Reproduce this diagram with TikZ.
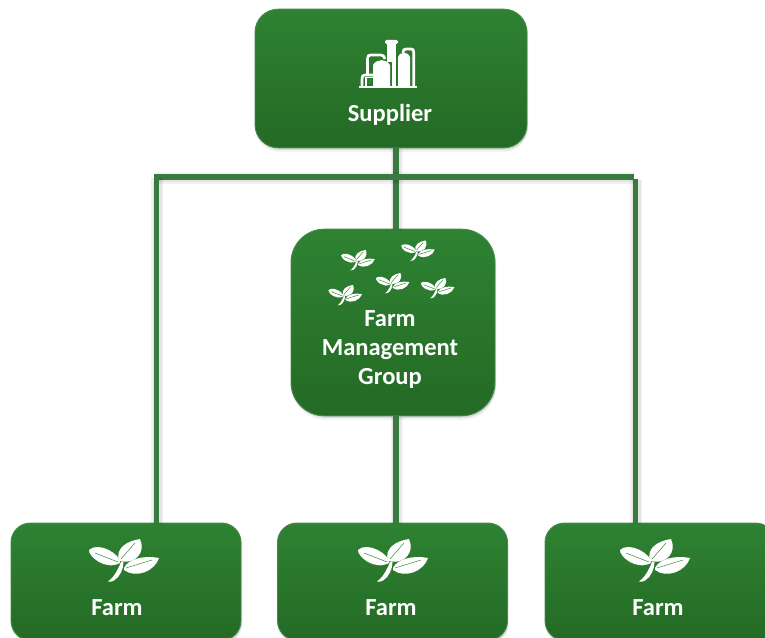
\documentclass[tikz,border=0pt]{standalone}
\usepackage{fontspec}
\setmainfont{Carlito}
\usetikzlibrary{shadows}
\definecolor{boxtop}{HTML}{2E8232}
\definecolor{boxbottom}{HTML}{246A25}
\definecolor{boxedge}{HTML}{46884E}
\definecolor{linegreen}{HTML}{387A40}
\tikzstyle{block} = [rectangle, draw=boxedge, line width=0.7pt, top color=boxtop, bottom color=boxbottom, drop shadow={shadow xshift=0.5pt, shadow yshift=-3pt, opacity=0.1}, drop shadow={shadow xshift=0.8pt, shadow yshift=-1.5pt, opacity=0.2}]
\tikzstyle{boxtext} = [text=white, align=center, font=\bfseries\fontsize{18.4}{21.75}\selectfont]
\tikzstyle{line} = [draw=linegreen, line width=4.2pt, preaction={draw=black, draw opacity=0.05, line width=9pt, transform canvas={xshift=0.6pt, yshift=-0.8pt}}, preaction={draw=black, draw opacity=0.06, line width=6.5pt, transform canvas={xshift=0.6pt, yshift=-0.8pt}}]
\tikzset{
  sprout/.pic={
    % left, upper and right leaf, then stem and veins
    \fill[white] (-2,1) .. controls (-1,-8) and (-24,-21) .. (-33,-12) .. controls (-33.8,-6) and (-17,9) .. (-2,1) -- cycle;
    \fill[white] (-3,-1) .. controls (-7,-14) and (5,-21) .. (18,-23) .. controls (24,-10) and (14,3) .. (-3,-1) -- cycle;
    \fill[white] (2,6) .. controls (6,-3) and (22,-7) .. (37,-4) .. controls (33,9) and (14,17) .. (2,8) -- cycle;
    \fill[white] (-14,19.5) .. controls (-9,16) and (-5,10) .. (-1,0) -- (1.5,0) .. controls (1.5,7) and (-2,15) .. (-8,18.5) .. controls (-10,19.7) and (-12,20.2) .. (-14,19.5) -- cycle;
    \draw[boxtop, line width=0.35pt] (-4,0) -- (-27,-9);
    \draw[boxtop, line width=0.35pt] (-1,-3) -- (13,-19);
    \draw[boxtop, line width=0.35pt] (4,6) -- (30,-2);
  },
  factory/.pic={
    % base line, stack, tanks and pipes
    \fill[white] (-30,0) rectangle (27.7,2.2);
    \fill[white] (2.7,0) rectangle (6.7,-30);
    \fill[white] (-2,-24) rectangle (7,-42);
    \fill[white, rounded corners=1pt] (-4,-42) rectangle (9,-46);
    \fill[white] (9,0) -- (9,-29) .. controls (10,-34.5) and (20,-34.5) .. (21,-29) -- (21,0) -- cycle;
    \draw[white, line width=2pt] (14,-33) .. controls (14,-36) and (15,-37) .. (17,-37) -- (22,-37) .. controls (24,-37) and (24.7,-36) .. (24.7,-34) -- (24.7,0);
    \fill[white] (-16,0) -- (-16,-21) .. controls (-12,-27.5) and (-3,-27.5) .. (1,-21) -- (1,0) -- cycle;
    \draw[white, line width=2pt] (-21.5,-12) -- (-21.5,-27) .. controls (-21.5,-30) and (-20.5,-31) .. (-18.5,-31) -- (-8,-31) .. controls (-6,-31) and (-5,-30) .. (-4,-27);
    \draw[white, line width=2pt] (-27,0) -- (-27,-7) .. controls (-27,-10) and (-26,-11) .. (-24,-11) -- (-16,-11);
    \fill[boxtop] (-22,-1.5) rectangle (-17,-7);
    \draw[white, line width=1.3pt] (-23,0) -- (-23,-8.5) -- (-16,-8.5);
  }
}

\begin{document}
\begin{tikzpicture}[x=0.75pt, y=-0.75pt]
    \useasboundingbox (0,0) rectangle (765,638);
    \begin{scope}
    \clip (0,0) rectangle (765,638);

    % Nodes
    \node [block, rounded corners=17.4pt, minimum width=204pt, minimum height=104pt] (supplier) at (391,78.5) {};
    \node [block, rounded corners=25pt, minimum width=153pt, minimum height=140pt] (group) at (393,322.5) {};
    \node [block, rounded corners=14.6pt, minimum width=172.5pt, minimum height=88pt] (farma) at (126,581.7) {};
    \node [block, rounded corners=14.6pt, minimum width=172.5pt, minimum height=88pt] (farmb) at (392.5,581.7) {};
    \node [block, rounded corners=14.6pt, minimum width=172.5pt, minimum height=88pt] (farmc) at (660,581.7) {};

    % labels
    \node [boxtext] (suppliertext) at (390,114.5) {Supplier};
    \node [boxtext] (grouptext) at (390,349.5) {Farm\\Management\\Group};
    \node [boxtext] (farmatext) at (117,608) {Farm};
    \node [boxtext] (farmbtext) at (391,608) {Farm};
    \node [boxtext] (farmctext) at (658,608) {Farm};

    % icons
    \pic at (389,86) {factory};
    \pic at (122,562) {sprout};
    \pic at (391,562) {sprout};
    \pic at (653,562) {sprout};
    \pic[scale=0.48] at (357,261) {sprout};
    \pic[scale=0.48] at (417,251.5) {sprout};
    \pic[scale=0.48] at (344.3,296) {sprout};
    \pic[scale=0.48] at (391.7,284) {sprout};
    \pic[scale=0.48] at (436.7,289) {sprout};

    % coordinates for the lines
    \coordinate (busleft) at (154,177);
    \coordinate (busright) at (633.5,177);
    \coordinate (trunk) at (396,177);
    \coordinate (dropleft) at (156.5,177);
    \coordinate (dropright) at (635.5,179);

    % lines
    \path[line] (supplier.south -| trunk) -- (group.north -| trunk);
    \path[line] (group.south -| trunk) -- (farmb.north -| trunk);
    \path[line] (busleft) -- (busright);
    \path[line] (dropleft) -- (farma.north -| dropleft);
    \path[line] (dropright) -- (farmc.north -| dropright);
    \end{scope}
\end{tikzpicture}
\end{document}
